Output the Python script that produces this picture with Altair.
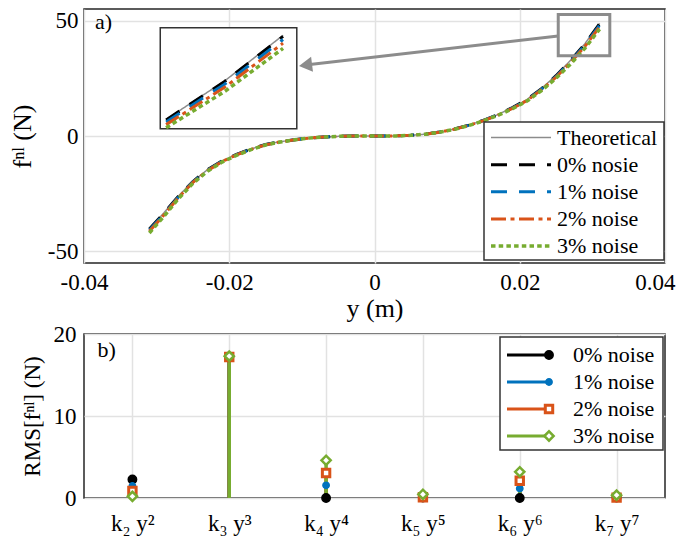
import altair as alt
import pandas as pd

FONT = "Liberation Serif"

# ---------------- panel a) data ----------------
y_disp = [-0.031, -0.029, -0.027, -0.025, -0.023, -0.021, -0.019, -0.017,
          -0.015, -0.013, -0.011, -0.009, -0.007, -0.005, -0.003, -0.001,
          0.001, 0.003, 0.005, 0.007, 0.009, 0.011, 0.013, 0.015,
          0.017, 0.019, 0.021, 0.023, 0.025, 0.027, 0.029, 0.031]
f_theory = [-40.2, -33.3, -26.0, -19.6, -14.6, -10.8, -8.0, -5.6, -3.7, -2.5, -1.6, -0.9,
            -0.45, -0.15, -0.05, 0.0, 0.0, 0.05, 0.3, 0.8, 1.7, 3.0, 4.7, 6.8,
            9.3, 12.3, 15.8, 20.6, 26.2, 32.8, 40.1, 48.8]
f_n0 = [-40.3, -33.4, -26.1, -19.7, -14.6, -10.8, -8.0, -5.6, -3.7, -2.5, -1.6, -0.9,
        -0.45, -0.15, -0.05, 0.0, 0.0, 0.05, 0.3, 0.8, 1.7, 3.0, 4.7, 6.8,
        9.3, 12.3, 15.8, 20.5, 26.1, 32.7, 40.0, 48.6]
f_n1 = [-40.7, -33.8, -26.4, -19.9, -14.8, -10.9, -8.1, -5.7, -3.8, -2.5, -1.6, -0.9,
        -0.45, -0.15, -0.05, 0.0, 0.0, 0.05, 0.3, 0.8, 1.7, 2.97, 4.65, 6.72,
        9.18, 12.15, 15.58, 20.3, 25.8, 32.3, 39.5, 48.0]
f_n2 = [-41.3, -34.2, -26.7, -20.1, -15.0, -11.1, -8.2, -5.8, -3.85, -2.55, -1.63, -0.9,
        -0.45, -0.15, -0.05, 0.0, 0.0, 0.05, 0.3, 0.8, 1.68, 2.94, 4.6, 6.65,
        9.08, 11.98, 15.38, 20.05, 25.5, 31.8, 38.9, 47.3]
f_n3 = [-42.0, -34.8, -27.2, -20.5, -15.3, -11.3, -8.4, -5.9, -3.9, -2.6, -1.65, -0.92,
        -0.45, -0.15, -0.05, 0.0, 0.0, 0.05, 0.3, 0.8, 1.67, 2.9, 4.55, 6.55,
        8.95, 11.8, 15.1, 19.7, 25.0, 31.2, 38.1, 46.3]

series_a = ["Theoretical", "0% nosie", "1% noise", "2% noise", "3% noise"]
colors_a = ["#8c8c8c", "#000000", "#0072BD", "#D95319", "#77AC30"]
dashes_a = [[1, 0], [16, 12], [16, 12], [15, 4.5, 4, 4.5], [4.5, 3.2]]
widths_a = [1.5, 3, 3, 3, 3.5]

x_ticks_a = [-0.04, -0.02, 0, 0.02, 0.04]
x_labels_a = ["-0.04", "-0.02", "0", "0.02", "0.04"]
y_ticks_a = [-50, 0, 50]
y_labels_a = ["-50", "0", "50"]
x_domain_a = [-0.04, 0.04]
y_domain_a = [-55, 55]

zoom_box_x = [0.0253, 0.0324]
zoom_box_y = [34.8, 52.6]
inset_box_x = [-0.0295, -0.0107]
inset_box_y = [3.1, 46.9]
inset_view_x = [0.0268, 0.03147]
inset_view_y = [31.0, 50.24]
inset_min_x = 0.0265
arrow_x = [0.0253, -0.0095]
arrow_y = [43.3, 30.7]
panel_a_label = "a)"

# ---------------- panel b) data ----------------
terms = ["k\u2082 y\u00b2", "k\u2083 y\u00b3", "k\u2084 y\u2074",
         "k\u2085 y\u2075", "k\u2086 y\u2076", "k\u2087 y\u2077"]
term_pos = [1, 2, 3, 4, 5, 6]
rms_n0 = [2.25, 17.2, 0.0, 0.05, 0.0, 0.05]
rms_n1 = [1.47, 17.2, 1.55, 0.2, 1.15, 0.1]
rms_n2 = [0.85, 17.2, 3.05, 0.1, 2.1, 0.05]
rms_n3 = [0.2, 17.3, 4.6, 0.45, 3.2, 0.35]
series_b = ["0% noise", "1% noise", "2% noise", "3% noise"]
colors_b = ["#000000", "#0072BD", "#D95319", "#77AC30"]
fills_b = ["#000000", "#0072BD", "#ffffff", "#ffffff"]
shapes_b = ["circle", "circle", "square", "diamond"]
sizes_b = [70, 40, 55, 85]
marker_widths_b = [1.5, 1.5, 3, 2.5]
x_domain_b = [0.5, 6.5]
y_ticks_b = [0, 10, 20]
panel_b_label = "b)"

# ---------------- layout (pixels inside each plot area) ----------------
W = 581
H_A = 254
H_B = 164
LAST_LABEL_SHIFT = 10
LEG_A_BOX = (400, 580, 113, 251)
LEG_A_ROWS = (128.5, 237)
LEG_A_LINE = (407, 467)
LEG_A_TEXT = 473
LEG_B_BOX = (416, 579, 3, 116)
LEG_B_ROWS = (21, 102)
LEG_B_LINE = (423, 465)
LEG_B_TEXT = 489


def px_x(v):
    return (v - x_domain_a[0]) / (x_domain_a[1] - x_domain_a[0]) * W


def px_y(v):
    return (y_domain_a[1] - v) / (y_domain_a[1] - y_domain_a[0]) * H_A


inset_range_x = [px_x(inset_box_x[0]), px_x(inset_box_x[1])]
inset_range_y = [px_y(inset_box_y[0]), px_y(inset_box_y[1])]

# ---------------- tables ----------------
rows = []
for name, vals in zip(series_a, [f_theory, f_n0, f_n1, f_n2, f_n3]):
    for x, v in zip(y_disp, vals):
        rows.append({"y": x, "f": v, "series": name})
df_a = pd.DataFrame(rows)
leg_df_a = pd.DataFrame({"series": series_a, "row": list(range(len(series_a)))})

rows = []
for name, vals in zip(series_b, [rms_n0, rms_n1, rms_n2, rms_n3]):
    for p, v in zip(term_pos, vals):
        rows.append({"pos": p, "rms": v, "series": name})
df_b = pd.DataFrame(rows)
leg_df_b = pd.DataFrame({"series": series_b, "row": list(range(len(series_b)))})

# ---------------- panel a ----------------
x_label_expr = "[" + ",".join("'%s'" % s for s in x_labels_a) + "][round((datum.value + 0.04) / 0.02)]"
y_label_expr = "[" + ",".join("'%s'" % s for s in y_labels_a) + "][round((datum.value + 50) / 50)]"
last_test = "datum.value > %g" % (x_ticks_a[-1] - 0.001)

AX = dict(labelFont=FONT, labelFontSize=23, labelColor="black", titleFont=FONT, titleFontSize=26,
          titleFontWeight="normal", titleColor="black", grid=True, gridColor="#e2e2e2", gridWidth=1.5,
          domain=False, ticks=False, labelFlush=False)

main_x = alt.X("y:Q", scale=alt.Scale(domain=x_domain_a, nice=False, zero=False),
               axis=alt.Axis(values=x_ticks_a, labelExpr=x_label_expr, title="y (m)",
                             labelAlign={"condition": {"test": last_test, "value": "right"}, "value": "center"},
                             labelOffset={"condition": {"test": last_test, "value": LAST_LABEL_SHIFT}, "value": 0},
                             labelPadding=8, titlePadding=1, **AX))
main_y = alt.Y("f:Q", scale=alt.Scale(domain=y_domain_a, nice=False, zero=False),
               axis=alt.Axis(values=y_ticks_a, labelExpr=y_label_expr,
                             title="f\u207f\u02e1 (N)", labelPadding=6, titlePadding=12, **AX))

color_a = alt.Color("series:N", scale=alt.Scale(domain=series_a, range=colors_a), legend=None)
dash_a = alt.StrokeDash("series:N", scale=alt.Scale(domain=series_a, range=dashes_a), legend=None)
width_a = alt.StrokeWidth("series:N", scale=alt.Scale(type="ordinal", domain=series_a, range=widths_a),
                          legend=None)

main_lines = alt.Chart(df_a).mark_line().encode(
    x=main_x, y=main_y, color=color_a, strokeDash=dash_a, strokeWidth=width_a)

zoom_box = alt.Chart(pd.DataFrame({"x": [zoom_box_x[0]], "x2": [zoom_box_x[1]],
                                   "y": [zoom_box_y[0]], "y2": [zoom_box_y[1]]})).mark_rect(
    fillOpacity=0, stroke="#8c8c8c", strokeWidth=3).encode(x="x:Q", x2="x2:Q", y="y:Q", y2="y2:Q")

arrow_df = pd.DataFrame({"x": [arrow_x[0]], "x2": [arrow_x[1]], "y": [arrow_y[0]], "y2": [arrow_y[1]]})
arrow_line = alt.Chart(arrow_df).mark_rule(color="#8c8c8c", strokeWidth=3).encode(
    x="x:Q", x2="x2:Q", y="y:Q", y2="y2:Q")
arrow_head = alt.Chart(arrow_df).mark_point(shape="triangle-left", filled=True, size=230, angle=353,
                                            color="#8c8c8c", opacity=1).encode(
    x=alt.X("x2:Q"), y=alt.Y("y2:Q"))

inset_frame = alt.Chart(pd.DataFrame({"x": [inset_box_x[0]], "x2": [inset_box_x[1]],
                                      "y": [inset_box_y[0]], "y2": [inset_box_y[1]]})).mark_rect(
    fill="white", stroke="#333333", strokeWidth=1.5).encode(x="x:Q", x2="x2:Q", y="y:Q", y2="y2:Q")

label_a = alt.Chart(pd.DataFrame({"t": [panel_a_label]})).mark_text(
    align="left", baseline="middle", font=FONT, fontSize=22, color="black").encode(
    text="t:N", x=alt.value(11), y=alt.value(12.5))

inner_a = alt.layer(main_lines, zoom_box, arrow_line, arrow_head, inset_frame, label_a)

inset_lines = alt.Chart(df_a).transform_filter(alt.datum.y >= inset_min_x).mark_line().encode(
    x=alt.X("y:Q", scale=alt.Scale(domain=inset_view_x, range=inset_range_x, nice=False, zero=False), axis=None),
    y=alt.Y("f:Q", scale=alt.Scale(domain=inset_view_y, range=inset_range_y, nice=False, zero=False), axis=None),
    color=color_a, strokeDash=dash_a, strokeWidth=width_a,
)

# legend of panel a
row_y_a = alt.Y("row:Q", scale=alt.Scale(domain=[0, len(series_a) - 1], range=list(LEG_A_ROWS)), axis=None)
leg_bg_a = alt.Chart(pd.DataFrame({"k": [0]})).mark_rect(fill="white", stroke="#333333", strokeWidth=1.5).encode(
    x=alt.value(LEG_A_BOX[0]), x2=alt.value(LEG_A_BOX[1]), y=alt.value(LEG_A_BOX[2]), y2=alt.value(LEG_A_BOX[3]))
leg_lines_a = alt.Chart(leg_df_a).mark_rule().encode(
    x=alt.value(LEG_A_LINE[0]), x2=alt.value(LEG_A_LINE[1]), y=row_y_a,
    color=color_a, strokeDash=dash_a, strokeWidth=width_a)
leg_text_a = alt.Chart(leg_df_a).mark_text(align="left", baseline="middle", font=FONT, fontSize=22,
                                           color="black").encode(
    x=alt.value(LEG_A_TEXT), y=row_y_a, text="series:N")

chart_a = alt.layer(inner_a, inset_lines, leg_bg_a, leg_lines_a, leg_text_a).resolve_scale(
    x="independent", y="independent").properties(width=W, height=H_A)

# ---------------- panel b ----------------
term_expr = "[" + ",".join("'%s'" % s for s in terms) + "][round(datum.value) - 1]"
AXB = dict(AX)
AXB["labelFontSize"] = 23
AXB["titleFontSize"] = 23

bx = alt.X("pos:Q", scale=alt.Scale(domain=x_domain_b, nice=False, zero=False),
           axis=alt.Axis(values=term_pos, labelExpr=term_expr, title=None, labelPadding=14, **AXB))
by_axis = alt.Y("rms:Q", scale=alt.Scale(domain=[0, 20], nice=False),
                axis=alt.Axis(values=y_ticks_b, title="RMS[f\u207f\u02e1] (N)", labelPadding=8,
                              titlePadding=9, **AXB))
by_plain = alt.Y("rms:Q", scale=alt.Scale(domain=[0, 20], nice=False), axis=None)

color_b = alt.Color("series:N", scale=alt.Scale(domain=series_b, range=colors_b), legend=None)
stroke_b = alt.Stroke("series:N", scale=alt.Scale(domain=series_b, range=colors_b), legend=None)
fill_b = alt.Fill("series:N", scale=alt.Scale(domain=series_b, range=fills_b), legend=None)
shape_b = alt.Shape("series:N", scale=alt.Scale(domain=series_b, range=shapes_b), legend=None)
size_b = alt.Size("series:N", scale=alt.Scale(type="ordinal", domain=series_b, range=sizes_b), legend=None)
mw_b = alt.StrokeWidth("series:N", scale=alt.Scale(type="ordinal", domain=series_b, range=marker_widths_b),
                       legend=None)

stems = alt.Chart(df_b).mark_rule(strokeWidth=3.5).encode(
    x=bx, y=by_axis, y2=alt.datum(0), color=color_b)

markers = alt.Chart(df_b).mark_point(opacity=1).encode(
    x=bx, y=by_plain, stroke=stroke_b, fill=fill_b, shape=shape_b, size=size_b, strokeWidth=mw_b)

label_b = alt.Chart(pd.DataFrame({"t": [panel_b_label]})).mark_text(
    align="left", baseline="middle", font=FONT, fontSize=22, color="black").encode(
    text="t:N", x=alt.value(13.5), y=alt.value(16))

row_y_b = alt.Y("row:Q", scale=alt.Scale(domain=[0, len(series_b) - 1], range=list(LEG_B_ROWS)), axis=None)
leg_bg_b = alt.Chart(pd.DataFrame({"k": [0]})).mark_rect(fill="white", stroke="#333333", strokeWidth=1.5).encode(
    x=alt.value(LEG_B_BOX[0]), x2=alt.value(LEG_B_BOX[1]), y=alt.value(LEG_B_BOX[2]), y2=alt.value(LEG_B_BOX[3]))
leg_lines_b = alt.Chart(leg_df_b).mark_rule(strokeWidth=3).encode(
    x=alt.value(LEG_B_LINE[0]), x2=alt.value(LEG_B_LINE[1]), y=row_y_b, color=color_b)
leg_marks_b = alt.Chart(leg_df_b).mark_point(opacity=1).encode(
    x=alt.value(LEG_B_LINE[1]), y=row_y_b, stroke=stroke_b, fill=fill_b, shape=shape_b, size=size_b,
    strokeWidth=mw_b)
leg_text_b = alt.Chart(leg_df_b).mark_text(align="left", baseline="middle", font=FONT, fontSize=22,
                                           color="black").encode(
    x=alt.value(LEG_B_TEXT), y=row_y_b, text="series:N")

chart_b = alt.layer(stems, markers, label_b, leg_bg_b, leg_lines_b, leg_marks_b, leg_text_b).resolve_scale(
    y="independent").properties(width=W, height=H_B)

chart = alt.vconcat(chart_a, chart_b, spacing=0).resolve_scale(
    color="independent", strokeDash="independent", strokeWidth="independent",
    stroke="independent", fill="independent", shape="independent", size="independent",
).properties(
    padding={"left": 0, "top": 0, "right": 0, "bottom": 0}
).configure_view(stroke="#262626", strokeWidth=1.5)

chart.save("out.html", embed_options={"renderer": "svg", "actions": False})
